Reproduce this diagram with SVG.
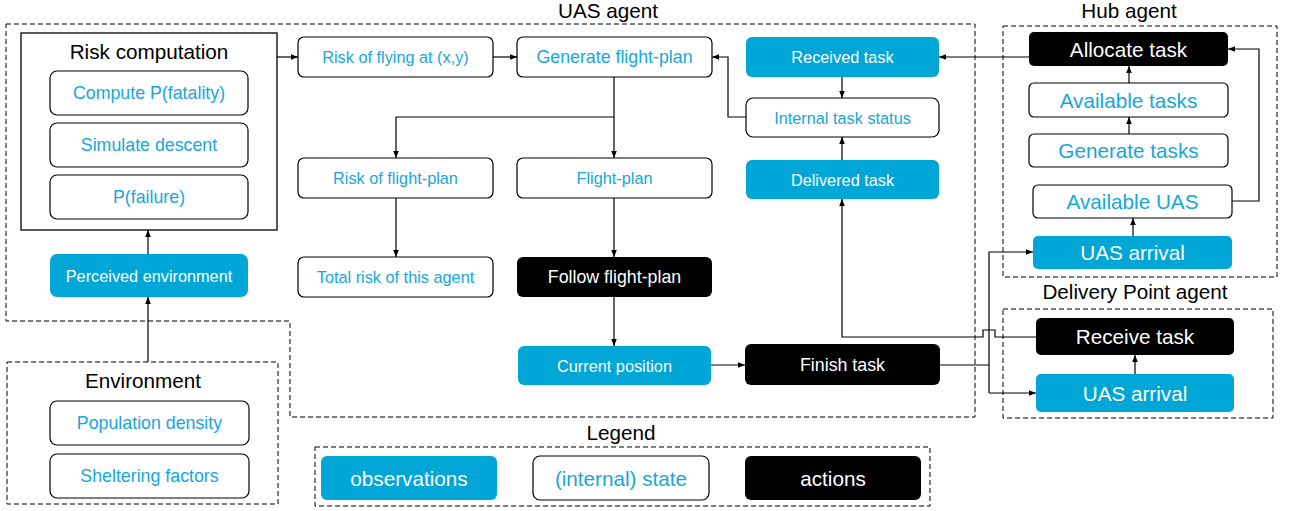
<svg xmlns="http://www.w3.org/2000/svg" width="1290" height="511" viewBox="0 0 1290 511">
<style>
text{font-family:"Liberation Sans",Arial,sans-serif;text-anchor:middle;dominant-baseline:central}
.obs rect{fill:#00A6D6;stroke:none}
.obs text{fill:#fff}
.st rect{fill:#fff;stroke:#000;stroke-width:1.2}
.st text{fill:#16A7DB}
.act rect{fill:#000;stroke:none}
.act text{fill:#fff}
.grp{fill:none;stroke:#000;stroke-width:1;stroke-dasharray:5,3}
.title{fill:#000;font-size:20.7px}
.s16{font-size:16.3px}
.s17{font-size:17.8px}
.s20{font-size:20.7px}
#connectors path{fill:none;stroke:#000;stroke-width:1.2}
</style>
<defs>
<marker id="ah" viewBox="0 0 10 10" refX="10" refY="5" markerWidth="7" markerHeight="7" markerUnits="userSpaceOnUse" orient="auto">
<path d="M0,1 L10,5 L0,9 Z" fill="#000"/>
</marker>
</defs>
<rect width="1290" height="511" fill="#fff"/>

<g id="groups">
<path class="grp" d="M6,24 H975 V417 H290 V321 H6 Z"/>
<text class="title" x="608" y="10">UAS agent</text>
<rect class="grp" x="7" y="362" width="271" height="142"/>
<text class="title" x="143" y="380">Environment</text>
<rect class="grp" x="1003" y="26" width="274" height="251"/>
<text class="title" x="1129" y="10">Hub agent</text>
<rect class="grp" x="1003" y="309" width="270" height="109"/>
<text class="title" x="1135" y="291">Delivery Point agent</text>
<rect class="grp" x="315" y="447" width="615" height="59"/>
<text class="title" x="621" y="432">Legend</text>
</g>

<g id="risk-computation">
<rect x="21" y="33" width="256" height="197" fill="#fff" stroke="#000" stroke-width="1.3"/>
<text class="title" x="149" y="51">Risk computation</text>
</g>
<g id="compute-pfatality" class="st"><rect x="50" y="71" width="198" height="44" rx="7"/><text class="s17" x="149" y="93">Compute P(fatality)</text></g>
<g id="simulate-descent" class="st"><rect x="50" y="123" width="198" height="44" rx="7"/><text class="s17" x="149" y="145">Simulate descent</text></g>
<g id="pfailure" class="st"><rect x="50" y="175" width="198" height="44" rx="7"/><text class="s17" x="149" y="197">P(failure)</text></g>
<g id="perceived-environment" class="obs"><rect x="50" y="254" width="198" height="43" rx="7"/><text class="s16" x="149" y="275.5">Perceived environment</text></g>
<g id="population-density" class="st"><rect x="50" y="401" width="199" height="44" rx="7"/><text class="s17" x="149.5" y="423">Population density</text></g>
<g id="sheltering-factors" class="st"><rect x="50" y="454" width="199" height="44" rx="7"/><text class="s17" x="149.5" y="476">Sheltering factors</text></g>

<g id="risk-of-flying" class="st"><rect x="298" y="37" width="195" height="40" rx="6"/><text class="s16" x="395.5" y="57">Risk of flying at (x,y)</text></g>
<g id="generate-flight-plan" class="st"><rect x="517" y="37" width="195" height="40" rx="6"/><text class="s17" x="614.5" y="57">Generate flight-plan</text></g>
<g id="risk-of-flight-plan" class="st"><rect x="298" y="158" width="195" height="40" rx="6"/><text class="s16" x="395.5" y="178">Risk of flight-plan</text></g>
<g id="flight-plan" class="st"><rect x="517" y="158" width="195" height="40" rx="6"/><text class="s16" x="614.5" y="178">Flight-plan</text></g>
<g id="total-risk" class="st"><rect x="298" y="257" width="195" height="40" rx="6"/><text class="s16" x="395.5" y="277">Total risk of this agent</text></g>
<g id="follow-flight-plan" class="act"><rect x="517" y="257" width="195" height="40" rx="6"/><text class="s17" x="614.5" y="277">Follow flight-plan</text></g>
<g id="current-position" class="obs"><rect x="518" y="346" width="193" height="39" rx="6"/><text class="s16" x="614.5" y="365.5">Current position</text></g>
<g id="finish-task" class="act"><rect x="745" y="344" width="195" height="41" rx="6"/><text class="s17" x="842.5" y="364.5">Finish task</text></g>
<g id="received-task" class="obs"><rect x="746" y="37" width="193" height="40" rx="6"/><text class="s16" x="842.5" y="57">Received task</text></g>
<g id="internal-task-status" class="st"><rect x="746" y="98" width="193" height="39" rx="7"/><text class="s16" x="842.5" y="117.5">Internal task status</text></g>
<g id="delivered-task" class="obs"><rect x="746" y="160" width="193" height="39" rx="6"/><text class="s16" x="842.5" y="179.5">Delivered task</text></g>

<g id="allocate-task" class="act"><rect x="1029" y="32" width="199" height="34" rx="5"/><text class="s20" x="1128.5" y="49">Allocate task</text></g>
<g id="available-tasks" class="st"><rect x="1029" y="83" width="199" height="34" rx="5"/><text class="s20" x="1128.5" y="100">Available tasks</text></g>
<g id="generate-tasks" class="st"><rect x="1029" y="134" width="199" height="33" rx="5"/><text class="s20" x="1128.5" y="150.5">Generate tasks</text></g>
<g id="available-uas" class="st"><rect x="1033" y="185" width="199" height="33" rx="5"/><text class="s20" x="1132.5" y="201.5">Available UAS</text></g>
<g id="hub-uas-arrival" class="obs"><rect x="1033" y="236" width="199" height="33" rx="5"/><text class="s20" x="1132.5" y="252.5">UAS arrival</text></g>
<g id="receive-task" class="act"><rect x="1036" y="318" width="198" height="37" rx="5"/><text class="s20" x="1135" y="336.5">Receive task</text></g>
<g id="dp-uas-arrival" class="obs"><rect x="1036" y="374" width="198" height="38" rx="5"/><text class="s20" x="1135" y="393">UAS arrival</text></g>

<g id="legend-observations" class="obs"><rect x="321" y="456" width="176" height="44" rx="6"/><text class="s20" x="409" y="478">observations</text></g>
<g id="legend-state" class="st"><rect x="533" y="456" width="176" height="44" rx="7"/><text class="s20" x="621" y="478">(internal) state</text></g>
<g id="legend-actions" class="act"><rect x="745" y="456" width="176" height="44" rx="6"/><text class="s20" x="833" y="478">actions</text></g>

<g id="connectors">
<path d="M277,57 H298" marker-end="url(#ah)"/>
<path d="M493,57 H517" marker-end="url(#ah)"/>
<path d="M614,77 V158" marker-end="url(#ah)"/>
<path d="M614,117 H396 V158" marker-end="url(#ah)"/>
<path d="M396,198 V257" marker-end="url(#ah)"/>
<path d="M614,198 V257" marker-end="url(#ah)"/>
<path d="M614,297 V346" marker-end="url(#ah)"/>
<path d="M711,365 H745" marker-end="url(#ah)"/>
<path d="M940,365 H989"/>
<path d="M989,393 V252 H1033" marker-end="url(#ah)"/>
<path d="M989,393 H1036" marker-end="url(#ah)"/>
<path d="M1036,337 H995 V330 H983 V337 H842 V199" marker-end="url(#ah)"/>
<path d="M842,77 V98" marker-end="url(#ah)"/>
<path d="M842,160 V137" marker-end="url(#ah)"/>
<path d="M746,117 H728 V57 H712" marker-end="url(#ah)"/>
<path d="M1029,57 H939" marker-end="url(#ah)"/>
<path d="M1129,83 V66" marker-end="url(#ah)"/>
<path d="M1129,134 V117" marker-end="url(#ah)"/>
<path d="M1133,236 V218" marker-end="url(#ah)"/>
<path d="M1232,201 H1259 V49 H1228" marker-end="url(#ah)"/>
<path d="M1135,374 V355" marker-end="url(#ah)"/>
<path d="M148,254 V230" marker-end="url(#ah)"/>
<path d="M148,362 V297" marker-end="url(#ah)"/>
</g>
</svg>
